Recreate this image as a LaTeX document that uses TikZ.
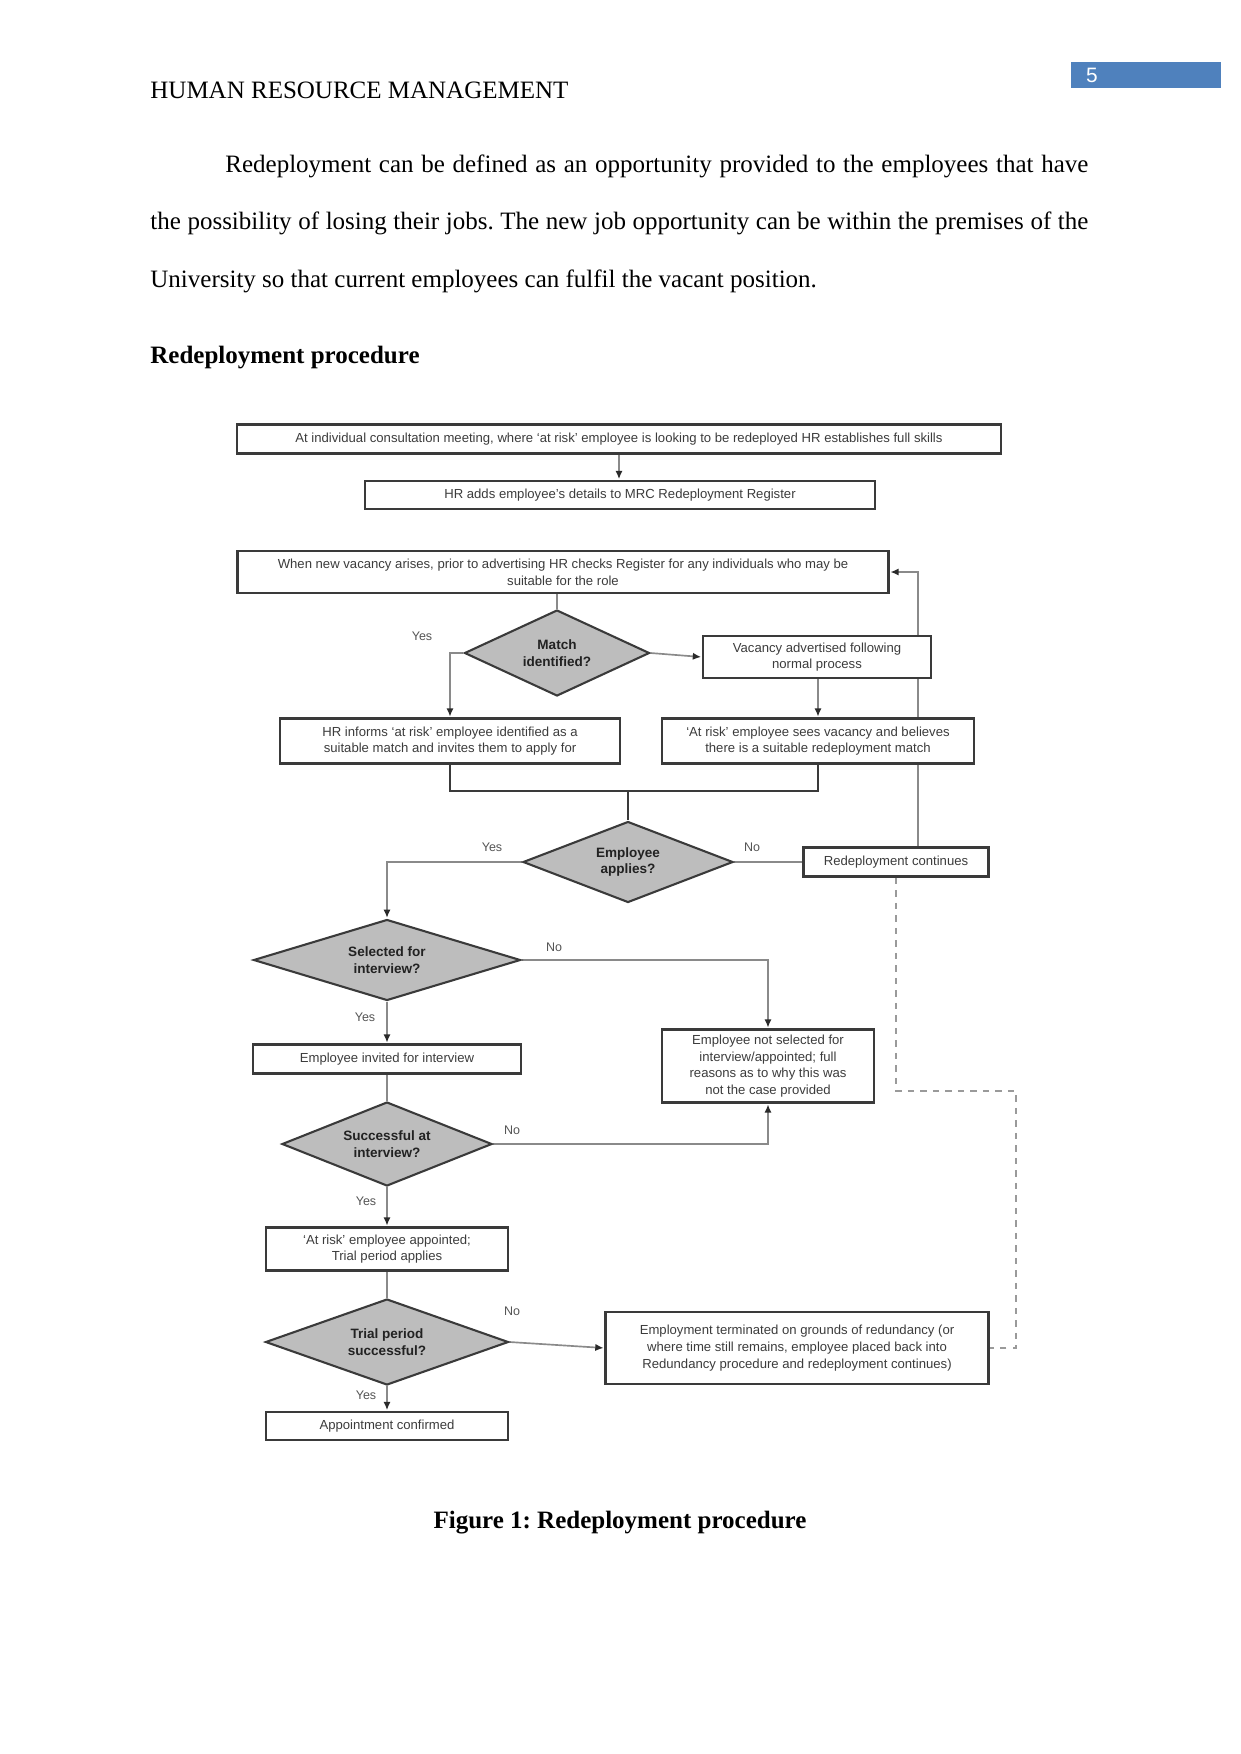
\documentclass[tikz,border=0pt]{standalone}
\usepackage{fontspec}
\setmainfont{Liberation Serif}
\newfontfamily\flowfont{Liberation Sans}
\usetikzlibrary{shapes.geometric,arrows.meta}
\definecolor{pgblue}{HTML}{4F81BD}
\definecolor{boxline}{HTML}{3A3A3A}
\definecolor{diafill}{HTML}{BDBDBD}
\definecolor{flowtext}{HTML}{3C3C3C}
\definecolor{diatext}{HTML}{222222}
\definecolor{connline}{HTML}{8A8A8A}
\definecolor{tipcol}{HTML}{2A2A2A}
\definecolor{lbltext}{HTML}{555555}
\definecolor{dashcol}{HTML}{9A9A9A}
\pgfdeclarelayer{bg}
\pgfdeclarelayer{paper}
\pgfsetlayers{paper,bg,main}
\frenchspacing
\begin{document}
\begin{tikzpicture}[x=0.48pt,y=-0.48pt,
  box/.style={draw=boxline, line width=1.2pt, fill=white, inner sep=1pt, align=center,
    font=\flowfont\fontsize{6.3}{8}\selectfont, text=flowtext},
  dia/.style={diamond, draw=boxline, line width=1pt, fill=diafill, inner sep=0pt, aspect=2.5,
    align=center, font=\flowfont\bfseries\fontsize{6.5}{8}\selectfont, text=diatext},
  sz/.style 2 args={minimum width=#1*0.48pt, minimum height=#2*0.48pt},
  conn/.style={draw=connline, line width=0.8pt},
  arr/.style={conn, -{Latex[length=4pt,width=3.5pt,color=tipcol]}, shorten >=0.3pt},
  merge/.style={draw=boxline, line width=1.3pt},
  dashline/.style={draw=dashcol, line width=0.7pt, dashed},
  lbl/.style={font=\flowfont\fontsize{6}{7}\selectfont, text=lbltext, inner sep=0pt},
  para/.style={font=\fontsize{12}{14}\selectfont, inner sep=0pt, anchor=west},
]
\useasboundingbox (0,0) rectangle (1241,1754);
\begin{pgfonlayer}{paper}
\fill[white] (0,0) rectangle (1241,1754);
\end{pgfonlayer}

% page header
\fill[pgblue] (1071,62) rectangle (1221,88);
\node[font=\flowfont\fontsize{10}{12}\selectfont, text=white, inner sep=0pt] (pnum) at (1092,75) {5};
\node[para] (hdr) at (150,90) {HUMAN RESOURCE MANAGEMENT};

% paragraph
\node[para] (p1) at (225,166) {\makebox[414.24pt][s]{Redeployment can be defined as an opportunity provided to the employees that have}};
\node[para] (p2) at (150,223) {\makebox[450.24pt][s]{the possibility of losing their jobs. The new job opportunity can be within the premises of the}};
\node[para] (p3) at (150,281) {University so that current employees can fulfil the vacant position.};
\node[para, font=\bfseries\fontsize{12}{14}\selectfont] (sec) at (150,358) {Redeployment procedure};

% flowchart nodes
\node[box, sz={764}{29}] (b1) at (619,439) {At individual consultation meeting, where ‘at risk’ employee is looking to be redeployed HR establishes full skills};
\node[box, sz={510}{28}] (b2) at (620,495) {HR adds employee’s details to MRC Redeployment Register};
\node[box, sz={651}{42}] (b3) at (563,572) {When new vacancy arises, prior to advertising HR checks Register for any individuals who may be\\suitable for the role};
\node[dia, sz={185}{86}] (d1) at (557,653) {Match\\identified?};
\node[box, sz={228}{42}] (vac) at (817,657) {Vacancy advertised following\\normal process};
\node[box, sz={340}{45}] (b4) at (450,741) {HR informs ‘at risk’ employee identified as a\\suitable match and invites them to apply for};
\node[box, sz={312}{45}] (b5) at (818,741) {‘At risk’ employee sees vacancy and believes\\there is a suitable redeployment match};
\node[dia, sz={210}{81}] (d2) at (628,862) {Employee\\applies?};
\node[box, sz={185}{29}] (red) at (896,862) {Redeployment continues};
\node[dia, sz={267}{81}] (d3) at (387,960) {Selected for\\interview?};
\node[box, sz={212}{73}] (ns) at (768,1066) {Employee not selected for\\interview/appointed; full\\reasons as to why this was\\not the case provided};
\node[box, sz={268}{29}] (b6) at (387,1059) {Employee invited for interview};
\node[dia, sz={210}{84}] (d4) at (387,1144) {Successful at\\interview?};
\node[box, sz={242}{43}] (b7) at (387,1249) {‘At risk’ employee appointed;\\Trial period applies};
\node[dia, sz={243}{86}] (d5) at (387,1342) {Trial period\\successful?};
\node[box, sz={383}{72}] (term) at (797,1348) {Employment terminated on grounds of redundancy (or\\where time still remains, employee placed back into\\Redundancy procedure and redeployment continues)};
\node[box, sz={242}{28}] (b8) at (387,1426) {Appointment confirmed};

% labels
\node[lbl] (l1) at (422,636) {Yes};
\node[lbl] (l2) at (492,847) {Yes};
\node[lbl] (l3) at (752,847) {No};
\node[lbl] (l4) at (554,947) {No};
\node[lbl] (l5) at (365,1017) {Yes};
\node[lbl] (l6) at (512,1130) {No};
\node[lbl] (l7) at (366,1201) {Yes};
\node[lbl] (l8) at (512,1311) {No};
\node[lbl] (l9) at (366,1395) {Yes};

% caption
\node[font=\bfseries\fontsize{12}{14}\selectfont, inner sep=0pt] (cap) at (620,1523) {Figure 1: Redeployment procedure};

% helper coordinates
\coordinate (fbx) at (918,0);
\coordinate (mj) at (628,791);
\coordinate (dk) at (1016,1091);

% connectors
\begin{pgfonlayer}{bg}
\draw[arr] (b1.south) -- (b1.south |- b2.north);
\draw[conn] (b3.south -| d1.north) -- (d1.north);
\draw[arr] (d1.west) -| (b4.north);
\draw[arr] (d1.east) -- (vac.west);
\draw[arr] (b5.north |- vac.south) -- (b5.north);
\draw[merge] (b4.south) |- (mj) -| (b5.south);
\draw[merge] (mj) -- (d2.north);
\draw[arr] (d2.west) -| (d3.north);
\draw[conn] (d2.east) -- (red.west);
\draw[arr] (fbx |- red.north) |- (b3.east);
\draw[dashline] (red.south) |- (dk) |- (term.east);
\draw[arr] (d3.east) -| (ns.north);
\draw[arr] (d3.south) -- (b6.north);
\draw[conn] (b6.south) -- (d4.north);
\draw[arr] (d4.east) -| (ns.south);
\draw[arr] (d4.south) -- (b7.north);
\draw[conn] (b7.south) -- (d5.north);
\draw[arr] (d5.east) -- (term.west);
\draw[arr] (d5.south) -- (b8.north);
\end{pgfonlayer}
\end{tikzpicture}
\end{document}
